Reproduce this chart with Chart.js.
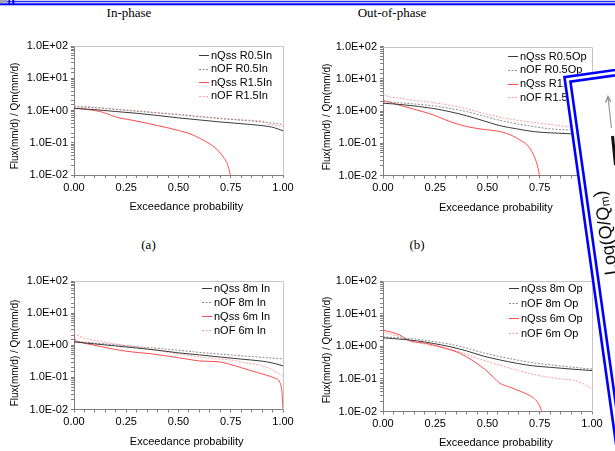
<!DOCTYPE html>
<html><head><meta charset="utf-8">
<script src="https://cdn.jsdelivr.net/npm/chart.js@4/dist/chart.umd.min.js"></script>
<style>
html,body{margin:0;padding:0;background:#fff;}
body{width:615px;height:451px;overflow:hidden;position:relative;font-family:"Liberation Sans",Arial,sans-serif;}
canvas{position:absolute;}
.ttl{position:absolute;font-family:"Liberation Serif","Times New Roman",serif;font-size:13px;color:#000;transform:translate(-50%,-50%);white-space:nowrap;}
</style></head><body>
<div class="ttl" style="left:129px;top:13px">In-phase</div>
<div class="ttl" style="left:392px;top:13px">Out-of-phase</div>
<div class="ttl" style="left:148.5px;top:245px">(a)</div>
<div class="ttl" style="left:417px;top:245px">(b)</div>
<canvas id="ca" width="300" height="196" style="left:0px;top:34px;width:300px;height:196px"></canvas>
<canvas id="cb" width="315" height="196" style="left:300px;top:34px;width:315px;height:196px"></canvas>
<canvas id="cc" width="300" height="196" style="left:0px;top:269px;width:300px;height:196px"></canvas>
<canvas id="cd" width="315" height="196" style="left:300px;top:269px;width:315px;height:196px"></canvas>
<svg width="615" height="451" style="position:absolute;left:0;top:0;pointer-events:none">
 <rect x="0" y="0" width="615" height="1" fill="#cfd0e6"/>
 <rect x="0" y="1" width="615" height="1.3" fill="#2a2aff"/>
 <rect x="0" y="3.3" width="615" height="2" fill="#0000ff"/>
 <rect x="0" y="0" width="7" height="2.7" fill="#a0a0b0"/>
 <rect x="8.5" y="0" width="1.5" height="5" fill="#0000ff"/>
 <rect x="12.3" y="0" width="2" height="5" fill="#0000ff"/>
 <g transform="translate(563,76) rotate(-8)">
   <rect x="0" y="0" width="220" height="520" fill="#fff"/>
   <rect x="1.3" y="1.3" width="220" height="520" fill="none" stroke="#0000ff" stroke-width="2.6"/>
   <rect x="6.6" y="6.6" width="220" height="520" fill="none" stroke="#0000ff" stroke-width="2.6"/>
 </g>
 <line x1="611.5" y1="128" x2="608" y2="97.5" stroke="#9a9a9a" stroke-width="1.2"/>
 <polyline points="605.6,102.5 608,96.5 610.8,101.8" fill="none" stroke="#8a8a8a" stroke-width="1.3"/>
 <line x1="612.5" y1="136" x2="615.5" y2="165" stroke="#111" stroke-width="3"/>
 <text transform="translate(605.5,233) rotate(-98)" text-anchor="middle" dominant-baseline="central" font-family="Liberation Sans, Arial, sans-serif" font-size="18" fill="#111">Log(Q/Q<tspan font-size="12" dy="4">m</tspan><tspan dy="-4">)</tspan></text>
</svg>
<script>
// ---------- axes ----------
const xTickValues = [0, 0.25, 0.5, 0.75, 1];
const xTickLabels = ['0.00', '0.25', '0.50', '0.75', '1.00'];
const yTickValues = [0.01, 0.1, 1, 10, 100];
const yTickLabels = ['1.0E-02', '1.0E-01', '1.0E+00', '1.0E+01', '1.0E+02'];
const xAxisTitle = 'Exceedance probability';
const yAxisTitle = 'Flux(mm/d) / Qm(mm/d)';

// ---------- panel (a) In-phase, R ----------
const aLegend = ['nQss R0.5In', 'nOF R0.5In', 'nQss R1.5In', 'nOF R1.5In'];
const aQss05X = [0, 0.1, 0.2, 0.3, 0.4, 0.5, 0.6, 0.7, 0.8, 0.9, 0.93, 0.96, 1.0];
const aQss05Y = [1.17, 1.06, 0.93, 0.82, 0.70, 0.59, 0.51, 0.44, 0.39, 0.34, 0.32, 0.29, 0.235];
const aOF05X = [0, 0.1, 0.2, 0.3, 0.4, 0.5, 0.6, 0.7, 0.8, 0.9, 1.0];
const aOF05Y = [1.32, 1.22, 1.08, 0.95, 0.84, 0.74, 0.64, 0.56, 0.50, 0.44, 0.37];
const aQss15X = [0, 0.03, 0.06, 0.1, 0.14, 0.18, 0.22, 0.25, 0.3, 0.35, 0.4, 0.45, 0.5, 0.55, 0.6, 0.64, 0.67, 0.7, 0.72, 0.735, 0.745, 0.75];
const aQss15Y = [1.18, 1.14, 1.08, 1.0, 0.87, 0.7, 0.58, 0.54, 0.47, 0.40, 0.34, 0.29, 0.24, 0.195, 0.14, 0.10, 0.075, 0.048, 0.032, 0.021, 0.012, 0.009];
const aOF15X = [0, 0.05, 0.1, 0.2, 0.3, 0.4, 0.5, 0.6, 0.7, 0.8, 0.9, 0.92, 0.925, 0.96, 1.0];
const aOF15Y = [1.38, 1.33, 1.25, 1.1, 0.98, 0.86, 0.76, 0.66, 0.58, 0.52, 0.47, 0.44, 0.38, 0.35, 0.32];

// ---------- panel (b) Out-of-phase, R ----------
const bLegend = ['nQss R0.5Op', 'nOF R0.5Op', 'nQss R1.5Op', 'nOF R1.5Op'];
const bQss05X = [0, 0.1, 0.24, 0.32, 0.4, 0.48, 0.56, 0.64, 0.72, 0.8, 0.88, 0.92, 1.0];
const bQss05Y = [1.75, 1.55, 1.2, 0.95, 0.71, 0.5, 0.35, 0.28, 0.23, 0.21, 0.2, 0.19, 0.18];
const bOF05X = [0, 0.1, 0.24, 0.32, 0.4, 0.48, 0.56, 0.64, 0.72, 0.8, 0.88, 1.0];
const bOF05Y = [1.97, 1.75, 1.45, 1.2, 0.96, 0.7, 0.51, 0.4, 0.33, 0.28, 0.26, 0.24];
const bQss15X = [0, 0.005, 0.016, 0.06, 0.16, 0.24, 0.32, 0.4, 0.48, 0.56, 0.62, 0.66, 0.69, 0.72, 0.74, 0.75];
const bQss15Y = [2.5, 2.1, 2.0, 1.65, 1.08, 0.76, 0.47, 0.33, 0.27, 0.23, 0.17, 0.12, 0.089, 0.044, 0.019, 0.009];
const bOF15X = [0, 0.02, 0.08, 0.16, 0.24, 0.32, 0.4, 0.48, 0.56, 0.64, 0.72, 0.8, 0.88, 1.0];
const bOF15Y = [3.4, 2.9, 2.5, 2.1, 1.83, 1.5, 1.17, 0.85, 0.64, 0.52, 0.44, 0.38, 0.33, 0.29];

// ---------- panel (c) In-phase, depth ----------
const cLegend = ['nQss 8m In', 'nOF 8m In', 'nQss 6m In', 'nOF 6m In'];
const cQss8X = [0, 0.1, 0.2, 0.3, 0.4, 0.5, 0.6, 0.7, 0.8, 0.9, 0.95, 1.0];
const cQss8Y = [1.27, 1.1, 0.95, 0.82, 0.7, 0.58, 0.5, 0.43, 0.37, 0.32, 0.28, 0.228];
const cOF8X = [0, 0.1, 0.2, 0.3, 0.4, 0.5, 0.6, 0.7, 0.8, 0.9, 1.0];
const cOF8Y = [1.33, 1.17, 1.03, 0.9, 0.8, 0.7, 0.6, 0.53, 0.47, 0.42, 0.376];
const cQss6X = [0, 0.005, 0.02, 0.06, 0.12, 0.25, 0.36, 0.5, 0.6, 0.7, 0.76, 0.84, 0.92, 0.96, 0.985, 0.995, 1.0];
const cQss6Y = [2.0, 1.5, 1.3, 1.12, 0.93, 0.65, 0.55, 0.41, 0.325, 0.3, 0.24, 0.167, 0.117, 0.095, 0.07, 0.035, 0.01];
const cOF6X = [0, 0.02, 0.06, 0.12, 0.2, 0.28, 0.36, 0.44, 0.52, 0.6, 0.68, 0.76, 0.82, 0.89, 0.95, 1.0];
const cOF6Y = [2.4, 2.0, 1.6, 1.33, 1.1, 0.93, 0.76, 0.62, 0.52, 0.43, 0.38, 0.34, 0.28, 0.24, 0.17, 0.109];

// ---------- panel (d) Out-of-phase, depth ----------
const dLegend = ['nQss 8m Op', 'nOF 8m Op', 'nQss 6m Op', 'nOF 6m Op'];
const dQss8X = [0, 0.08, 0.16, 0.24, 0.32, 0.4, 0.48, 0.56, 0.64, 0.72, 0.8, 0.9, 1.0];
const dQss8Y = [1.82, 1.65, 1.47, 1.22, 0.97, 0.72, 0.50, 0.38, 0.30, 0.25, 0.226, 0.2, 0.18];
const dOF8X = [0, 0.08, 0.16, 0.24, 0.32, 0.4, 0.48, 0.56, 0.64, 0.72, 0.8, 0.9, 1.0];
const dOF8Y = [1.95, 1.8, 1.65, 1.4, 1.16, 0.88, 0.63, 0.48, 0.38, 0.31, 0.27, 0.23, 0.2];
const dQss6X = [0, 0.04, 0.08, 0.13, 0.21, 0.3, 0.37, 0.43, 0.49, 0.53, 0.56, 0.6, 0.64, 0.68, 0.72, 0.74, 0.755, 0.76];
const dQss6Y = [3.1, 2.7, 2.2, 1.47, 1.22, 0.86, 0.6, 0.36, 0.19, 0.11, 0.073, 0.058, 0.046, 0.036, 0.026, 0.019, 0.012, 0.009];
const dOF6X = [0, 0.04, 0.08, 0.13, 0.2, 0.28, 0.35, 0.42, 0.5, 0.58, 0.66, 0.75, 0.85, 0.92, 0.96, 1.0];
const dOF6Y = [2.77, 2.3, 1.95, 1.45, 1.15, 0.9, 0.72, 0.5, 0.34, 0.24, 0.17, 0.125, 0.1, 0.088, 0.07, 0.05];

// ---------- styling ----------
const FONT = '"Liberation Sans", Arial, sans-serif';
const STYLES = [
  {color: '#3a3a3a', dash: []},
  {color: '#8c8c8c', dash: [2, 1.5]},
  {color: '#ff4c4c', dash: []},
  {color: '#ff9c9c', dash: [2, 1.5]}
];
Chart.defaults.font.family = FONT;

// minor x tick positions (every fifth of a labelled interval)
const xMinorTicks = [];
for (let i = 0; i < xTickValues.length - 1; i++) {
  for (let k = 0; k < 5; k++) xMinorTicks.push(xTickValues[i] + (xTickValues[i + 1] - xTickValues[i]) * k / 5);
}
xMinorTicks.push(xTickValues[xTickValues.length - 1]);

const deco = {
  id: 'panelDeco',
  beforeDatasetsDraw(chart, args, o) {
    const a = chart.chartArea, c = chart.ctx;
    c.save();
    c.strokeStyle = '#c6c6c6'; c.lineWidth = 1;
    c.beginPath();
    c.moveTo(Math.round(a.left), Math.round(a.top) + 0.5);
    c.lineTo(Math.round(a.right) + 0.5, Math.round(a.top) + 0.5);
    c.lineTo(Math.round(a.right) + 0.5, Math.round(a.bottom));
    c.stroke();
    c.restore();
  },
  afterDatasetsDraw(chart, args, o) {
    const c = chart.ctx;
    c.save();
    c.font = '11px ' + FONT;
    c.textBaseline = 'middle';
    c.textAlign = 'left';
    chart.data.datasets.forEach((ds, i) => {
      const y = o.legY + i * o.legDy;
      c.strokeStyle = ds.borderColor; c.lineWidth = 1;
      c.setLineDash(ds.borderDash || []);
      c.beginPath(); c.moveTo(o.legX, Math.round(y) + 0.5); c.lineTo(o.legX + 10, Math.round(y) + 0.5); c.stroke();
      c.setLineDash([]);
      c.fillStyle = '#000';
      c.fillText(ds.label, o.legX + 12, y + 0.5);
    });
    c.textAlign = 'center';
    c.font = '11px ' + FONT;
    c.fillText(xAxisTitle, o.xt[0], o.xt[1]);
    c.translate(o.yt[0], o.yt[1]);
    c.rotate(-Math.PI / 2);
    c.font = '10px ' + FONT;
    c.fillText(yAxisTitle, 0, 0);
    c.restore();
  }
};

function pts(xs, ys) { return xs.map((x, i) => ({x: x, y: ys[i]})); }

function makePanel(id, legend, series, L) {
  const datasets = series.map((s, i) => ({
    label: legend[i], data: pts(s[0], s[1]),
    borderColor: STYLES[i].color, borderDash: STYLES[i].dash, borderWidth: 1,
    pointRadius: 0, fill: false, cubicInterpolationMode: 'monotone'
  }));
  new Chart(document.getElementById(id), {
    type: 'line',
    data: {datasets},
    options: {
      responsive: false, animation: false, devicePixelRatio: 1,
      layout: {padding: {top: L.top, right: L.right, left: 0, bottom: 0}},
      plugins: {legend: {display: false}, tooltip: {enabled: false}, panelDeco: L},
      scales: {
        x: {
          type: 'linear', min: 0, max: 1,
          afterBuildTicks: sc => { sc.ticks = xMinorTicks.map(v => ({value: v})); },
          ticks: {
            autoSkip: false, maxRotation: 0, minRotation: 0, padding: 3, color: '#000',
            font: {family: FONT, size: 11},
            callback: v => { const i = xTickValues.findIndex(t => Math.abs(t - v) < 1e-6); return i >= 0 ? xTickLabels[i] : ''; }
          },
          grid: {drawOnChartArea: false, drawTicks: true, tickLength: 3, color: '#808080'},
          border: {display: true, color: '#808080', width: 1},
          afterFit: sc => { sc.height = L.xh; }
        },
        y: {
          type: 'logarithmic', min: 0.01, max: 100,
          ticks: {
            autoSkip: false, padding: 3, color: '#000', font: {family: FONT, size: 11},
            callback: v => { const i = yTickValues.findIndex(t => Math.abs(Math.log10(t) - Math.log10(v)) < 1e-6); return i >= 0 ? yTickLabels[i] : ''; }
          },
          grid: {drawOnChartArea: false, drawTicks: true, tickLength: 3, color: '#808080'},
          border: {display: true, color: '#808080', width: 1},
          afterFit: sc => { sc.width = L.yw; }
        }
      }
    },
    plugins: [deco]
  });
}

makePanel('ca', aLegend, [[aQss05X, aQss05Y], [aOF05X, aOF05Y], [aQss15X, aQss15Y], [aOF15X, aOF15Y]],
  {top: 12, right: 17, yw: 74, xh: 55, legX: 199, legY: 21, legDy: 13.6, xt: [186.3, 172.7], yt: [15, 82]});
makePanel('cb', bLegend, [[bQss05X, bQss05Y], [bOF05X, bOF05Y], [bQss15X, bQss15Y], [bOF15X, bOF15Y]],
  {top: 12.5, right: 23, yw: 83, xh: 54.5, legX: 208, legY: 22, legDy: 13.8, xt: [195.8, 174], yt: [27, 83]});
makePanel('cc', cLegend, [[cQss8X, cQss8Y], [cOF8X, cOF8Y], [cQss6X, cQss6Y], [cOF6X, cOF6Y]],
  {top: 12, right: 17, yw: 74, xh: 55.5, legX: 202, legY: 19, legDy: 14, xt: [186.7, 172.5], yt: [15, 84]});
makePanel('cd', dLegend, [[dQss8X, dQss8Y], [dOF8X, dOF8Y], [dQss6X, dQss6Y], [dOF6X, dOF6Y]],
  {top: 12, right: 23, yw: 83, xh: 53.5, legX: 209, legY: 19, legDy: 15, xt: [195.8, 174], yt: [27, 81]});
</script>
</body></html>
